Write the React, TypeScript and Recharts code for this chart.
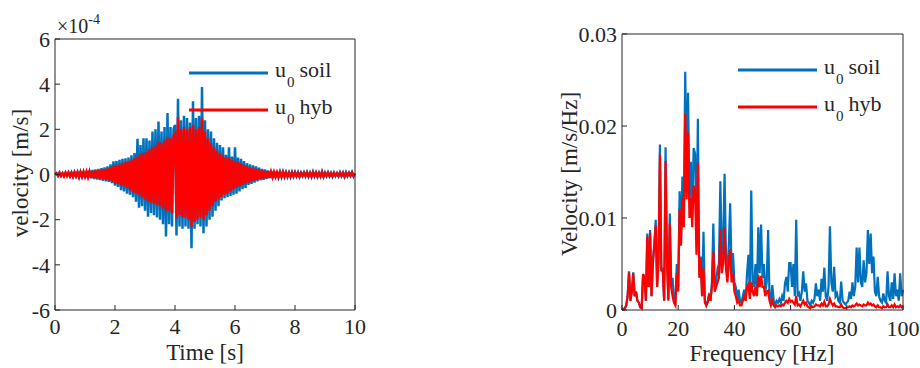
import React from 'react';
import { LineChart, Line, XAxis, YAxis, Legend } from 'recharts';

const FONT = '"Liberation Serif", "Times New Roman", serif';
const INK = '#262626';
const BLUE = '#0072BD';
const RED = '#FF0000';

// time history, sampled every 0.05 s, values in 1e-4 m/s
const TIME_STEP = 0.05;
const velSoil = [
  0, 0.05, -0.06, 0.08, -0.05, 0.06, -0.08, 0.07, -0.06, 0.09, -0.07, 0.08, -0.1, 0.09, -0.08, 0.1, -0.12, 0.11, -0.1, 0.12,
  -0.14, 0.15, -0.15, 0.18, -0.17, 0.2, -0.2, 0.22, -0.22, 0.25, -0.25, 0.28, -0.28, 0.32, -0.3, 0.36, -0.33, 0.45, -0.38, 0.58,
  -0.5, 0.6, -0.55, 0.65, -0.7, 0.7, -0.75, 0.72, -0.85, 0.75, -0.9, 0.85, -1.0, 0.95, -1.2, 1.58, -1.47, 1.3, -1.4, 1.6,
  -1.6, 1.6, -1.87, 1.5, -1.7, 1.9, -1.8, 2.0, -1.9, 2.35, -2.0, 1.9, -2.2, 2.1, -2.75, 2.72, -2.2, 2.1, -2.3, 2.0,
  2.2, -2.7, 3.35, -2.3, 2.4, -2.4, 2.6, -2.3, 2.5, -2.4, 2.3, -3.27, 3.24, -2.4, 2.5, -2.2, 2.6, -2.3, 3.87, -2.6,
  2.4, -2.3, 2.0, -2.0, 1.9, -1.87, 1.6, -1.6, 1.4, -1.4, 1.3, -1.15, 1.2, -1.05, 0.87, -1.0, 1.2, -0.95, 0.8, -0.9,
  1.2, -0.85, 0.75, -0.75, 0.7, -0.65, 0.6, -0.6, 0.5, -0.46, 0.45, -0.42, 0.4, -0.36, 0.36, -0.3, 0.3, -0.26, 0.25, -0.24,
  0.22, -0.2, 0.18, -0.17, 0.16, -0.15, 0.14, -0.14, 0.13, -0.12, 0.12, -0.11, 0.12, -0.1, 0.1, -0.1, 0.09, -0.1, 0.1, -0.09,
  0.1, -0.08, 0.09, -0.1, 0.08, -0.07, 0.09, -0.08, 0.1, -0.09, 0.08, -0.1, 0.12, -0.08, 0.09, -0.1, 0.08, -0.09, 0.13, -0.1,
  0.08, -0.07, 0.09, -0.08, 0.07, -0.09, 0.08, -0.07, 0.06, -0.08, 0.09, -0.07, 0.08, -0.1, 0.09, -0.07, 0.08, -0.06, 0.1, -0.08, 0.05,
];
const velHyb = [
  0, 0.06, -0.05, 0.07, -0.06, 0.05, -0.07, 0.08, -0.06, 0.07, -0.08, 0.07, -0.08, 0.1, -0.07, 0.09, -0.1, 0.1, -0.09, 0.1,
  -0.1, 0.12, -0.12, 0.13, -0.13, 0.15, -0.15, 0.17, -0.17, 0.19, -0.19, 0.21, -0.21, 0.24, -0.23, 0.27, -0.26, 0.32, -0.3, 0.38,
  -0.4, 0.42, -0.43, 0.45, -0.5, 0.5, -0.53, 0.55, -0.6, 0.6, -0.7, 0.65, -0.8, 0.72, -0.85, 0.8, -0.9, 0.9, -1.0, 0.95,
  -1.1, 1.0, -1.2, 1.1, -1.25, 1.2, -1.3, 1.3, -1.35, 1.47, -1.4, 1.4, -1.5, 1.5, -1.6, 1.6, -1.6, 1.6, -1.7, 1.7,
  1.8, -1.94, 2.53, -1.8, 2.0, -1.9, 2.1, -1.9, 2.0, -2.0, 2.1, -2.3, 2.2, -2.1, 2.0, -2.0, 2.1, -1.9, 2.5, -2.0,
  1.9, -1.8, 1.6, -1.6, 1.4, -1.4, 1.2, -1.2, 1.05, -1.1, 0.95, -1.0, 0.85, -0.9, 0.75, -0.85, 0.75, -0.75, 0.65, -0.65,
  0.6, -0.6, 0.55, -0.52, 0.5, -0.45, 0.42, -0.4, 0.36, -0.35, 0.3, -0.3, 0.28, -0.26, 0.25, -0.22, 0.22, -0.2, 0.18, -0.17,
  0.16, -0.15, 0.14, -0.13, 0.12, -0.12, 0.11, -0.1, 0.1, -0.1, 0.09, -0.09, 0.1, -0.08, 0.08, -0.08, 0.07, -0.08, 0.08, -0.07,
  0.08, -0.07, 0.07, -0.08, 0.06, -0.06, 0.07, -0.06, 0.08, -0.07, 0.06, -0.08, 0.09, -0.06, 0.07, -0.08, 0.06, -0.07, 0.1, -0.08,
  0.06, -0.05, 0.07, -0.06, 0.05, -0.07, 0.06, -0.05, 0.05, -0.06, 0.07, -0.05, 0.06, -0.08, 0.07, -0.05, 0.06, -0.05, 0.08, -0.06, 0.04,
];

// spectrum, every 0.5 Hz, values in 1e-3 m/s/Hz
const FREQ_STEP = 0.5;
const specSoil = [
  0, 0.1, 0.2, 0.5, 1.5, 4.2, 1.0, 2.0, 4.1, 1.5, 2.0, 1.0, 0.8, 0.3, 0.2, 3.9, 3.5, 1.0, 8.3, 2.5,
  8.7, 1.5, 5.5, 7.2, 9.8, 2.5, 6.5, 18.0, 4.5, 4.5, 1.0, 17.7, 6.0, 1.2, 10.5, 3.0, 3.5, 1.0, 0.8, 5.0,
  2.5, 12.9, 8.0, 14.5, 10.0, 25.9, 15.0, 23.6, 12.0, 16.1, 11.0, 17.6, 17.0, 8.0, 20.8, 4.0, 5.8, 1.5, 8.5, 1.0,
  0.5, 1.0, 1.8, 1.0, 3.0, 9.4, 2.5, 3.0, 4.5, 5.0, 14.0, 6.0, 7.0, 14.8, 6.0, 4.0, 7.0, 11.6, 4.0, 6.2,
  3.0, 2.5, 1.0, 2.2, 1.0, 0.8, 1.5, 2.2, 1.0, 4.0, 6.0, 1.5, 13.0, 3.0, 2.5, 5.0, 2.0, 9.0, 4.0, 9.3,
  3.5, 5.0, 2.0, 3.0, 8.7, 1.5, 1.0, 2.7, 1.0, 0.5, 1.0, 0.8, 1.2, 0.8, 1.5, 1.0, 2.9, 3.6, 2.0, 5.1,
  5.1, 2.5, 5.0, 1.5, 9.8, 1.5, 1.8, 1.0, 2.0, 4.2, 2.0, 2.9, 1.0, 0.8, 0.5, 1.0, 0.8, 1.2, 2.9, 1.5,
  2.2, 1.0, 3.4, 2.0, 4.6, 1.5, 1.0, 2.5, 9.1, 3.0, 2.0, 4.7, 1.5, 1.8, 1.0, 0.8, 3.1, 1.0, 0.8, 0.6,
  0.8, 1.0, 2.0, 1.2, 3.0, 1.5, 2.5, 6.8, 3.0, 6.8, 3.0, 2.5, 5.4, 3.0, 4.0, 8.7, 5.0, 8.3, 4.0, 5.8,
  2.0, 1.5, 3.6, 1.5, 1.0, 0.8, 1.8, 1.0, 0.8, 4.2, 1.5, 1.0, 3.0, 1.2, 4.0, 1.5, 2.2, 1.0, 4.0, 1.5, 2.2,
];
const specHyb = [
  0, 0.1, 0.2, 0.5, 1.5, 4.1, 1.0, 2.0, 4.0, 1.5, 2.0, 1.0, 0.8, 0.3, 0.2, 3.9, 3.5, 1.0, 8.0, 2.5,
  8.4, 1.5, 5.0, 7.0, 9.2, 2.5, 5.0, 16.9, 4.3, 4.2, 1.0, 16.2, 5.0, 1.0, 9.4, 2.5, 1.5, 0.8, 0.5, 4.0,
  2.0, 11.0, 7.0, 12.3, 9.0, 21.3, 12.0, 19.3, 10.0, 12.2, 9.0, 13.5, 13.0, 6.0, 16.0, 3.5, 5.6, 1.5, 4.5, 0.8,
  0.5, 0.8, 1.5, 1.0, 2.5, 6.3, 2.0, 2.5, 3.0, 3.5, 8.8, 4.0, 5.0, 8.9, 4.5, 3.0, 5.0, 6.6, 3.0, 4.0,
  2.0, 1.5, 0.8, 1.0, 0.5, 0.5, 1.0, 1.5, 1.0, 2.5, 2.8, 1.2, 3.0, 2.0, 1.5, 2.5, 1.5, 3.8, 2.5, 3.7,
  2.5, 2.5, 1.5, 2.0, 2.1, 1.0, 0.5, 1.0, 0.5, 0.3, 0.5, 0.4, 0.5, 0.4, 0.6, 0.5, 0.8, 1.0, 0.8, 1.2,
  0.9, 1.0, 0.8, 0.6, 1.5, 0.5, 0.6, 0.4, 0.7, 1.0, 0.6, 0.8, 0.4, 0.3, 0.2, 0.4, 0.3, 0.4, 0.6, 0.5,
  0.5, 0.4, 0.7, 0.5, 0.9, 0.4, 0.4, 0.6, 1.2, 0.8, 0.5, 0.7, 0.4, 0.4, 0.3, 0.3, 0.6, 0.3, 0.2, 0.2,
  0.3, 0.3, 0.4, 0.3, 0.5, 0.4, 0.5, 0.7, 0.5, 0.6, 0.5, 0.4, 0.6, 0.5, 0.5, 0.8, 0.6, 0.7, 0.5, 0.6,
  0.4, 0.3, 0.5, 0.3, 0.3, 0.2, 0.4, 0.3, 0.3, 0.6, 0.3, 0.3, 0.5, 0.3, 0.6, 0.3, 0.4, 0.3, 0.5, 0.3, 0.4,
];

const timeTicks = [0, 2, 4, 6, 8, 10];
const velTicks = [-6, -4, -2, 0, 2, 4, 6];
const freqTicks = [0, 20, 40, 60, 80, 100];
const specTicks = [0, 10, 20, 30];
const legendOrder = ['soil', 'hyb'];

const timeData = velSoil.map((v, i) => ({ t: i * TIME_STEP, soil: v, hyb: velHyb[i] }));
const freqData = specSoil.map((v, i) => ({ f: i * FREQ_STEP, soil: v, hyb: specHyb[i] }));

const axisLine = { stroke: INK, strokeWidth: 1 };
const tickLine = { stroke: INK, strokeWidth: 1 };

const fmtSpec = (v: number) => (v === 0 ? '0' : (v / 1000).toFixed(2));

// tick labels drawn by hand so the font size sticks
const bottomTick = (p: any) => (
  <text x={p.x} y={p.y} dy="0.71em" textAnchor="middle" fontSize={22} fill={INK} fontFamily={FONT}>
    {p.payload.value}
  </text>
);
const leftTick = (fmt?: (v: number) => string) => (p: any) => (
  <text x={p.x} y={p.y} dy="0.355em" textAnchor="end" fontSize={22} fill={INK} fontFamily={FONT}>
    {fmt ? fmt(p.payload.value) : p.payload.value}
  </text>
);

// MATLAB style legend: line sample + u_0 label, no box
const renderLegend = (props: any) => {
  const items = [...(props.payload || [])].sort(
    (a: any, b: any) => legendOrder.indexOf(a.value) - legendOrder.indexOf(b.value)
  );
  return (
    <svg width={170} height={60} style={{ overflow: 'visible', display: 'block' }}>
      {items.map((it: any, i: number) => {
        const cy = 8 + i * 37;
        return (
          <g key={it.value}>
            <line x1={0} x2={79} y1={cy} y2={cy} stroke={it.color} strokeWidth={3} />
            <text x={86} y={cy + 4} fontSize={22} fill={INK} fontFamily={FONT}>
              u
              <tspan dx={1} dy={10} fontSize={15}>0</tspan>
              <tspan dx={5} dy={-10}>{it.value}</tspan>
            </text>
          </g>
        );
      })}
    </svg>
  );
};

function TimePlot() {
  return (
    <LineChart width={380} height={368} data={timeData} margin={{ top: 38, right: 24, bottom: 57, left: 54 }}>
      <XAxis dataKey="t" type="number" domain={[0, 10]} ticks={timeTicks} interval={0} height={1}
        tickSize={-5} tickMargin={13} axisLine={axisLine} tickLine={tickLine} tick={bottomTick} />
      <XAxis xAxisId="top" orientation="top" type="number" domain={[0, 10]} ticks={timeTicks} allowDataOverflow
        height={1} tickSize={-5} tick={false} axisLine={axisLine} tickLine={tickLine} />
      <YAxis type="number" domain={[-6, 6]} ticks={velTicks} interval={0} width={1}
        tickSize={-5} tickMargin={10} axisLine={axisLine} tickLine={tickLine} tick={leftTick()} />
      <YAxis yAxisId="right" orientation="right" type="number" domain={[-6, 6]} ticks={velTicks} allowDataOverflow
        width={1} tickSize={-5} tick={false} axisLine={axisLine} tickLine={tickLine} />
      <Line dataKey="soil" name="soil" stroke={BLUE} strokeWidth={2.5} dot={false} type="linear" isAnimationActive={false} />
      <Line dataKey="hyb" name="hyb" stroke={RED} strokeWidth={2.5} dot={false} type="linear" isAnimationActive={false} />
      <Legend content={renderLegend} layout="horizontal" verticalAlign="middle" align="center"
        wrapperStyle={{ left: 189, top: 65, width: 170, height: 60 }} />
    </LineChart>
  );
}

function SpectrumPlot() {
  return (
    <LineChart width={380} height={368} data={freqData} margin={{ top: 33, right: 16, bottom: 57, left: 81 }}>
      <XAxis dataKey="f" type="number" domain={[0, 100]} ticks={freqTicks} interval={0} height={1}
        tickSize={-5} tickMargin={15} axisLine={axisLine} tickLine={tickLine} tick={bottomTick} />
      <XAxis xAxisId="top" orientation="top" type="number" domain={[0, 100]} ticks={freqTicks} allowDataOverflow
        height={1} tickSize={-5} tick={false} axisLine={axisLine} tickLine={tickLine} />
      <YAxis type="number" domain={[0, 30]} ticks={specTicks} interval={0} width={1}
        tickSize={-5} tickMargin={10} axisLine={axisLine} tickLine={tickLine} tick={leftTick(fmtSpec)} />
      <YAxis yAxisId="right" orientation="right" type="number" domain={[0, 30]} ticks={specTicks} allowDataOverflow
        width={1} tickSize={-5} tick={false} axisLine={axisLine} tickLine={tickLine} />
      <Line dataKey="soil" name="soil" stroke={BLUE} strokeWidth={2.2} dot={false} type="linear" isAnimationActive={false} />
      <Line dataKey="hyb" name="hyb" stroke={RED} strokeWidth={2.2} dot={false} type="linear" isAnimationActive={false} />
      <Legend content={renderLegend} layout="horizontal" verticalAlign="middle" align="center"
        wrapperStyle={{ left: 198, top: 62, width: 170, height: 60 }} />
    </LineChart>
  );
}

export default function App() {
  return (
    <div style={{ position: 'absolute', left: 0, top: 0, width: 920, height: 368, background: '#fff', fontFamily: FONT }}>
      <div style={{ position: 'absolute', left: 0, top: 0 }}>
        <TimePlot />
      </div>
      <div style={{ position: 'absolute', left: 540, top: 0 }}>
        <SpectrumPlot />
      </div>
      {/* axis titles and the exponent label */}
      <svg width={920} height={368} style={{ position: 'absolute', left: 0, top: 0, pointerEvents: 'none' }}>
        <text x={57} y={33} fontSize={20} fill={INK} fontFamily={FONT}>
          ×10<tspan fontSize={14} dy={-9}>-4</tspan>
        </text>
        <text x={205} y={360} textAnchor="middle" fontSize={23} fill={INK} fontFamily={FONT}>Time [s]</text>
        <text transform="translate(28,173) rotate(-90)" textAnchor="middle" fontSize={23} fill={INK} fontFamily={FONT}>
          velocity [m/s]
        </text>
        <text x={762} y={361} textAnchor="middle" fontSize={23} fill={INK} fontFamily={FONT}>Frequency [Hz]</text>
        <text transform="translate(577,174) rotate(-90)" textAnchor="middle" fontSize={23} fill={INK} fontFamily={FONT}>
          Velocity [m/s/Hz]
        </text>
      </svg>
    </div>
  );
}
